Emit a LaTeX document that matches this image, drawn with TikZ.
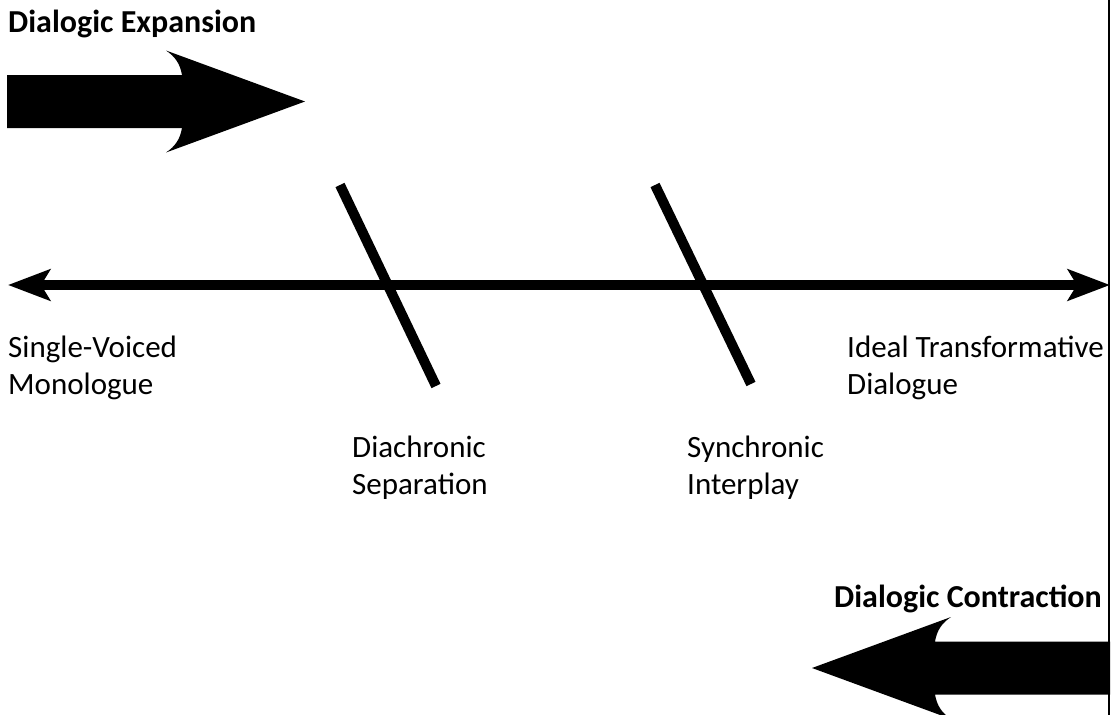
\documentclass[tikz,border=0pt]{standalone}
\usepackage{fontspec}
\setmainfont{Carlito}
\usetikzlibrary{arrows.meta}
\tikzset{
  fatarrow/.pic={
    \fill (0,-26.5) -- (175,-26.5) .. controls (173,-38) and (168,-45) .. (159,-51)
      -- (298,0) -- (159,51) .. controls (168,45) and (173,38) .. (175,26.5)
      -- (0,26.5) -- cycle;
  },
  label text/.style={anchor=base west,inner sep=0pt,align=left,
    font=\fontsize{31}{37}\selectfont},
  title text/.style={anchor=base west,inner sep=0pt,
    font=\fontsize{32}{37}\selectfont\bfseries},
  tick line/.style={line width=10pt}
}

\begin{document}
\begin{tikzpicture}[x=1pt,y=-1pt,
% arrow heads of the continuum line
axis/.style={line width=10pt,
  {Stealth[length=42pt,width=31pt,inset=9pt]}-{Stealth[length=42pt,width=31pt,inset=9pt]}}]

\useasboundingbox (0,0) rectangle (1112,715);

\pgfmathsetmacro\axisy{285}

% continuum
\coordinate (left) at (8,\axisy);
\coordinate (right) at (1110,\axisy);
\draw[axis] (left) -- (right);

% right border
\coordinate (top) at (1109,0);
\coordinate (bottom) at (1109,715);
\draw[line width=2pt] (top) -- (bottom);

% the two cuts
\coordinate (dtop) at (340,185);
\coordinate (dbot) at (436,386);
\coordinate (stop) at (655,185);
\coordinate (sbot) at (751,384);
\draw[tick line] (dtop) -- (dbot);
\draw[tick line] (stop) -- (sbot);

% block arrows
\pic at (7,101.5) {fatarrow};
\pic[xscale=-1] at (1110,668) {fatarrow};

\node[title text] (expansion) at (8,32) {Dialogic Expansion};
\node[title text] (contraction) at (834,607) {Dialogic Contraction};

% base anchor sits on the second line
\node[label text] (mono) at (8,394) {Single-Voiced\\Monologue};
\node[label text] (ideal) at (847,394) {Ideal Transformative\\Dialogue};
\node[label text] (diach) at (352,494) {Diachronic\\Separation};
\node[label text] (synch) at (687,494) {Synchronic\\Interplay};
\end{tikzpicture}
\end{document}
